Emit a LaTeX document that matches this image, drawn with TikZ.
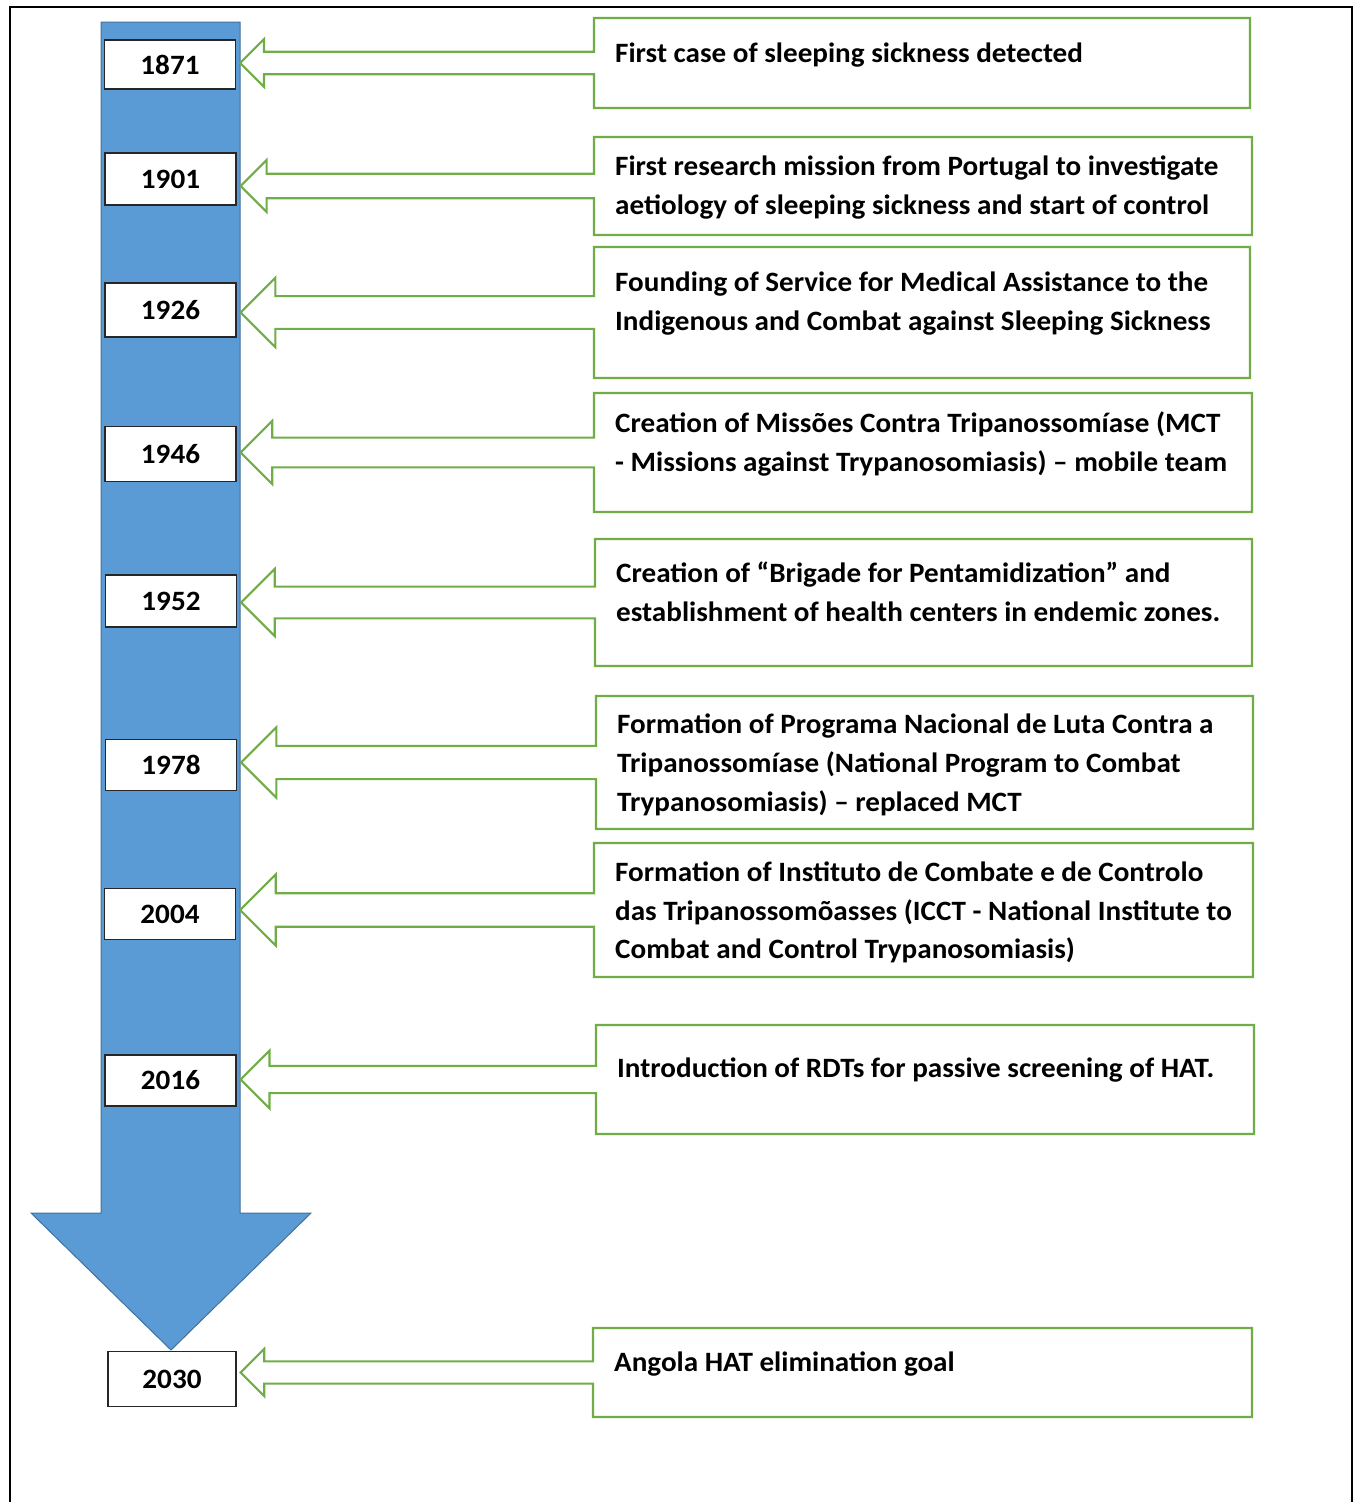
\documentclass[tikz,border=0pt]{standalone}
\usepackage{fontspec}
\setmainfont{Carlito}[FakeStretch=1.04]
\usepackage{tikz}
\usetikzlibrary{calc}

\definecolor{barblue}{HTML}{5B9BD5}
\definecolor{baredge}{HTML}{41719C}
\definecolor{callgreen}{HTML}{70AD47}

\tikzset{
  timeline/.style={fill=barblue, draw=baredge, line width=1pt},
  yearbox/.style={draw=black!85, fill=white, line width=1.3pt, minimum width=131pt, minimum height=52pt,
    inner sep=0pt, font=\fontsize{28}{32}\selectfont\bfseries},
  evbox/.style={anchor=north west, inner sep=0pt, outer sep=0pt},
  callout/.style={draw=callgreen, fill=white, line width=2.2pt},
  evtext/.style={anchor=north west, inner sep=0pt, align=left,
    font=\fontsize{28}{38.8}\selectfont\bfseries, execute at begin node={\rule{0pt}{24pt}}}
}

\begin{document}
\begin{tikzpicture}[x=1pt, y=-1pt]
        \useasboundingbox (0,0) rectangle (1356,1502);
        \draw[line width=2pt] (10,1510) -- (10,7) -- (1352,7) -- (1352,1510);

        % downward timeline arrow
        \draw[timeline] (101,22) -- (240,22) -- (240,1213) -- (311,1213) -- (171,1350)
            -- (31,1213) -- (101,1213) -- cycle;

        % years
        \node[yearbox, minimum height=49pt] (y1) at (170,64.5) {1871};
        \node[yearbox] (y2) at (170.5,179) {1901};
        \node[yearbox, minimum height=54pt] (y3) at (170.5,310) {1926};
        \node[yearbox, minimum height=55pt] (y4) at (170.5,454) {1946};
        \node[yearbox] (y5) at (171,601) {1952};
        \node[yearbox, minimum height=51pt] (y6) at (171,765) {1978};
        \node[yearbox, minimum height=51pt] (y7) at (170,914) {2004};
        \node[yearbox, minimum height=51pt] (y8) at (170.5,1080.5) {2016};
        \node[yearbox, minimum width=128pt, minimum height=55pt] (y9) at (172,1379) {2030};

        % event boxes
        \node[evbox, minimum width=656pt, minimum height=90pt] (e1) at (594,18) {};
        \node[evbox, minimum width=658pt, minimum height=98pt] (e2) at (594,137) {};
        \node[evbox, minimum width=656pt, minimum height=131pt] (e3) at (594,247) {};
        \node[evbox, minimum width=658pt, minimum height=119pt] (e4) at (594,393) {};
        \node[evbox, minimum width=657pt, minimum height=127pt] (e5) at (595,539) {};
        \node[evbox, minimum width=657pt, minimum height=133pt] (e6) at (596,696) {};
        \node[evbox, minimum width=659pt, minimum height=134pt] (e7) at (594,843) {};
        \node[evbox, minimum width=658pt, minimum height=109pt] (e8) at (596,1025) {};
        \node[evbox, minimum width=659pt, minimum height=89pt] (e9) at (593,1328) {};

        % callouts pointing at the years
        \foreach \i/\h in {1/90,2/98,3/131,4/119,5/127,6/133,7/134,8/109,9/89} {
            \pgfmathsetmacro{\shaft}{0.125*\h}
            \pgfmathsetmacro{\barb}{0.265*\h}
            \coordinate (tip\i) at ($(y\i.east |- e\i.west)+(4,0)$);
            \draw[callout] (e\i.north west) -- (e\i.north east) -- (e\i.south east) -- (e\i.south west)
                -- ($(e\i.west)+(0,\shaft)$) -- ($(tip\i)+(\barb,\shaft)$) -- ($(tip\i)+(\barb,\barb)$)
                -- (tip\i) -- ($(tip\i)+(\barb,-\barb)$) -- ($(tip\i)+(\barb,-\shaft)$)
                -- ($(e\i.west)+(0,-\shaft)$) -- cycle;
        }

        % texts
        \node[evtext] (t1) at ($(e1.north west)+(21,20)$) {First case of sleeping sickness detected};
        \node[evtext] (t2) at ($(e2.north west)+(21,18.5)$) {First research mission from Portugal to investigate\\aetiology of sleeping sickness and start of control};
        \node[evtext] (t3) at ($(e3.north west)+(21,24.5)$) {Founding of Service for Medical Assistance to the\\Indigenous and Combat against Sleeping Sickness};
        \node[evtext] (t4) at ($(e4.north west)+(21,18.5)$) {Creation of Missões Contra Tripanossomíase (MCT\\- Missions against Trypanosomiasis) – mobile team};
        \node[evtext] (t5) at ($(e5.north west)+(21,22.5)$) {Creation of “Brigade for Pentamidization” and\\establishment of health centers in endemic zones.};
        \node[evtext] (t6) at ($(e6.north west)+(21,18)$) {Formation of Programa Nacional de Luta Contra a\\Tripanossomíase (National Program to Combat\\Trypanosomiasis) – replaced MCT};
        \node[evtext] (t7) at ($(e7.north west)+(21,18.5)$) {Formation of Instituto de Combate e de Controlo\\das Tripanossomõasses (ICCT - National Institute to\\Combat and Control Trypanosomiasis)};
        \node[evtext] (t8) at ($(e8.north west)+(21,28)$) {Introduction of RDTs for passive screening of HAT.};
        \node[evtext] (t9) at ($(e9.north west)+(21,19)$) {Angola HAT elimination goal};
    \end{tikzpicture}
\end{document}
